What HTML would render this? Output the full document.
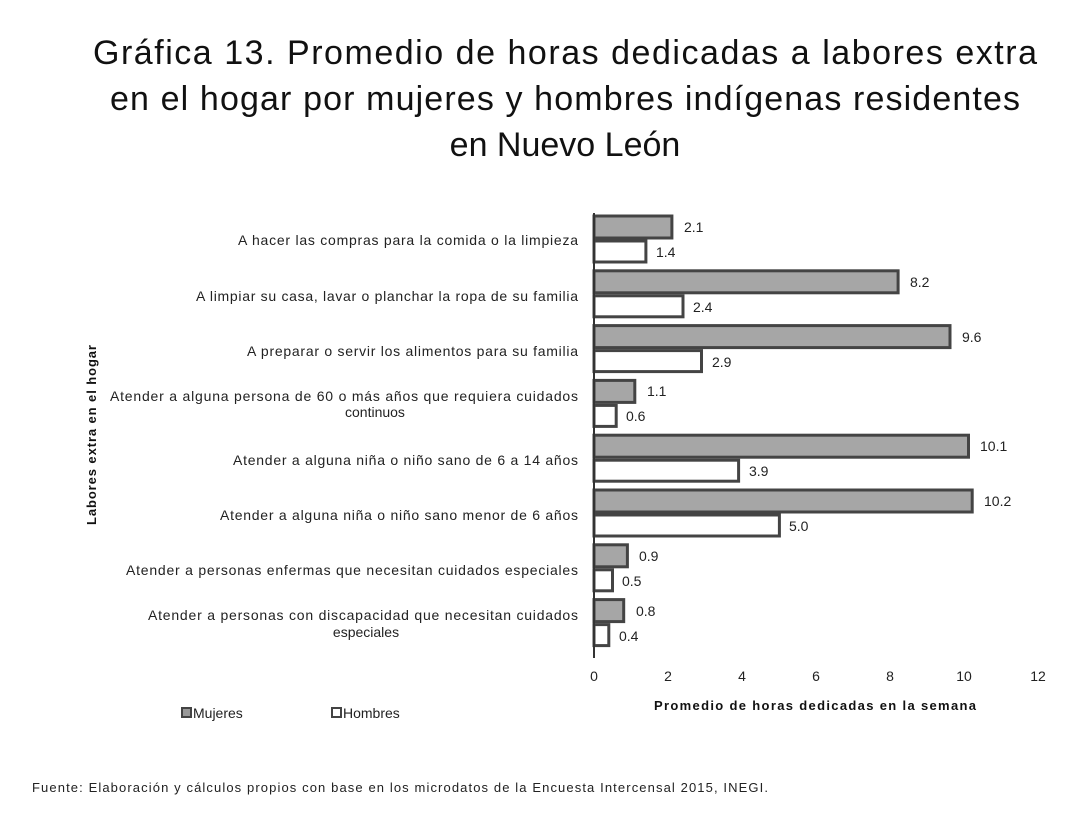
<!DOCTYPE html>
<html><head><meta charset="utf-8"><style>body{margin:0;background:#fff}svg{display:block}</style></head><body>
<svg width="1080" height="825" xmlns="http://www.w3.org/2000/svg" font-family="Liberation Sans, sans-serif">
<rect width="1080" height="825" fill="#fff"/>
<g font-size="34" fill="#111" text-anchor="middle">
<text x="565" y="64" textLength="944" lengthAdjust="spacing">Gráfica 13. Promedio de horas dedicadas a labores extra</text>
<text x="565" y="110" textLength="910" lengthAdjust="spacing">en el hogar por mujeres y hombres indígenas residentes</text>
<text x="565" y="156">en Nuevo León</text>
</g>
<g stroke="#444" stroke-width="3">
<rect x="594" y="216" width="77.9" height="22" fill="#a6a6a6"/><rect x="594" y="241" width="51.9" height="21" fill="#fff"/>
<rect x="594" y="270.8" width="304.1" height="22" fill="#a6a6a6"/><rect x="594" y="295.8" width="89.0" height="21" fill="#fff"/>
<rect x="594" y="325.6" width="356.0" height="22" fill="#a6a6a6"/><rect x="594" y="350.6" width="107.5" height="21" fill="#fff"/>
<rect x="594" y="380.4" width="40.8" height="22" fill="#a6a6a6"/><rect x="594" y="405.4" width="22.2" height="21" fill="#fff"/>
<rect x="594" y="435.2" width="374.5" height="22" fill="#a6a6a6"/><rect x="594" y="460.2" width="144.6" height="21" fill="#fff"/>
<rect x="594" y="490" width="378.2" height="22" fill="#a6a6a6"/><rect x="594" y="515" width="185.4" height="21" fill="#fff"/>
<rect x="594" y="544.8" width="33.4" height="22" fill="#a6a6a6"/><rect x="594" y="569.8" width="18.5" height="21" fill="#fff"/>
<rect x="594" y="599.6" width="29.7" height="22" fill="#a6a6a6"/><rect x="594" y="624.6" width="14.8" height="21" fill="#fff"/>
</g>
<g font-size="14" fill="#222">
<text x="684" y="232">2.1</text><text x="656" y="257">1.4</text>
<text x="910" y="287">8.2</text><text x="693" y="312">2.4</text>
<text x="962" y="342">9.6</text><text x="712" y="367">2.9</text>
<text x="647" y="396">1.1</text><text x="626" y="421">0.6</text>
<text x="980" y="451">10.1</text><text x="749" y="476">3.9</text>
<text x="984" y="506">10.2</text><text x="789" y="531">5.0</text>
<text x="639" y="561">0.9</text><text x="622" y="586">0.5</text>
<text x="636" y="616">0.8</text><text x="619" y="641">0.4</text>
</g>
<line x1="594" y1="213" x2="594" y2="658" stroke="#333" stroke-width="2"/>
<g font-size="14" fill="#222" text-anchor="end">
<text x="578" y="245" textLength="340" lengthAdjust="spacing">A hacer las compras para la comida o la limpieza</text>
<text x="578" y="301" textLength="382" lengthAdjust="spacing">A limpiar su casa, lavar o planchar la ropa de su familia</text>
<text x="578" y="356" textLength="331" lengthAdjust="spacing">A preparar o servir los alimentos para su familia</text>
<text x="578" y="401" textLength="468" lengthAdjust="spacing">Atender a alguna persona de 60 o más años que requiera cuidados</text>
<text x="345" y="417" text-anchor="start">continuos</text>
<text x="578" y="465" textLength="345" lengthAdjust="spacing">Atender a alguna niña o niño sano de 6 a 14 años</text>
<text x="578" y="520" textLength="358" lengthAdjust="spacing">Atender a alguna niña o niño sano menor de 6 años</text>
<text x="578" y="575" textLength="452" lengthAdjust="spacing">Atender a personas enfermas que necesitan cuidados especiales</text>
<text x="578" y="620" textLength="430" lengthAdjust="spacing">Atender a personas con discapacidad que necesitan cuidados</text>
<text x="366" y="637" text-anchor="middle">especiales</text>
</g>
<g font-size="14" fill="#222" text-anchor="middle">
<text x="594" y="681">0</text><text x="668" y="681">2</text><text x="742" y="681">4</text><text x="816" y="681">6</text><text x="890" y="681">8</text><text x="964" y="681">10</text><text x="1038" y="681">12</text>
</g>
<text x="815" y="710" font-size="13" font-weight="bold" text-anchor="middle" fill="#111" textLength="322" lengthAdjust="spacing">Promedio de horas dedicadas en la semana</text>
<text transform="translate(96,435) rotate(-90)" font-size="13" font-weight="bold" text-anchor="middle" fill="#111" textLength="180" lengthAdjust="spacing">Labores extra en el hogar</text>
<rect x="182" y="708" width="9" height="9" fill="#999" stroke="#444" stroke-width="2"/>
<text x="193" y="718" font-size="14" fill="#222">Mujeres</text>
<rect x="332" y="708" width="9" height="9" fill="#fff" stroke="#444" stroke-width="2"/>
<text x="343" y="718" font-size="14" fill="#222">Hombres</text>
<text x="32" y="792" font-size="13" fill="#222" textLength="736" lengthAdjust="spacing">Fuente: Elaboración y cálculos propios con base en los microdatos de la Encuesta Intercensal 2015, INEGI.</text>
</svg>
</body></html>
